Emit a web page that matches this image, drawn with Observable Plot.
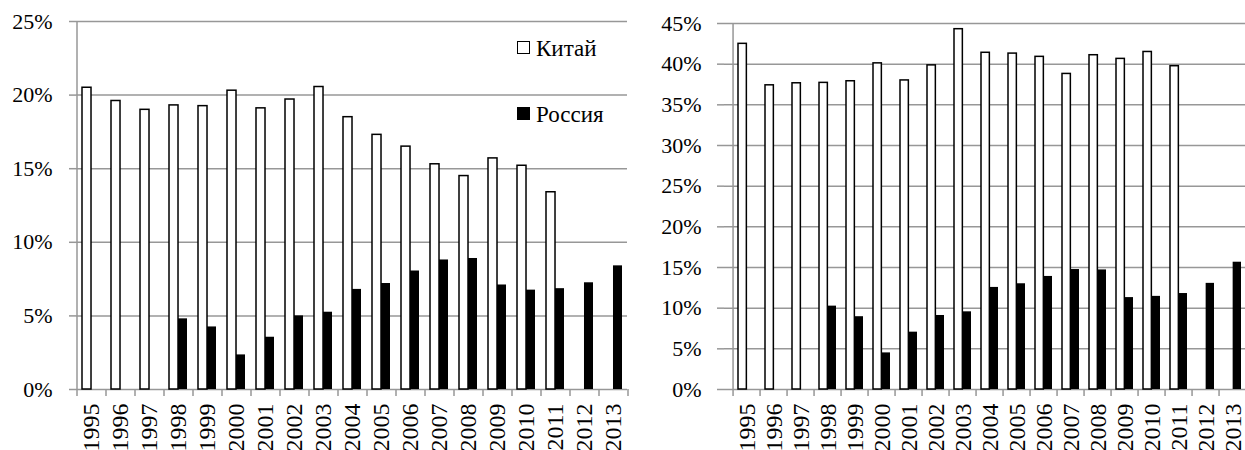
<!DOCTYPE html>
<html><head><meta charset="utf-8">
<script src="https://cdn.jsdelivr.net/npm/d3@7"></script>
<script src="https://cdn.jsdelivr.net/npm/@observablehq/plot@0.6"></script>
<style>
html,body{margin:0;padding:0;background:#fff;overflow:hidden;}
#wrap{position:relative;width:1245px;height:450px;overflow:hidden;background:#fff;}
#left{position:absolute;left:0;top:0;width:630px;}
#right{position:absolute;left:630px;top:0;width:627px;}
.sw{position:absolute;box-sizing:border-box;width:13px;height:13px;}
.leg{position:absolute;font-size:23px;line-height:24px;white-space:nowrap;color:#000;}
</style></head>
<body>
<div id="wrap">
  <div id="left"></div>
  <div id="right"></div>
  <div class="sw" style="left:517px;top:41px;border:1.5px solid #000;background:#fff;"></div>
  <div class="leg" style="left:536px;top:37px;">Китай</div>
  <div class="sw" style="left:517px;top:107px;background:#000;"></div>
  <div class="leg" style="left:536px;top:103px;">Россия</div>
</div>
<script>
const years = ["1995","1996","1997","1998","1999","2000","2001","2002","2003","2004","2005","2006","2007","2008","2009","2010","2011","2012","2013"];
const seriesNames = ["Китай", "Россия"];

// Left panel
const chinaLeft  = [20.5, 19.6, 19.0, 19.3, 19.25, 20.3, 19.1, 19.7, 20.55, 18.5, 17.3, 16.5, 15.3, 14.5, 15.7, 15.2, 13.4, null, null];
const russiaLeft = [null, null, null, 4.8, 4.25, 2.35, 3.55, 5.0, 5.25, 6.8, 7.2, 8.05, 8.8, 8.9, 7.1, 6.75, 6.85, 7.25, 8.4];
const yTicksLeft = [0, 5, 10, 15, 20, 25];

// Right panel
const chinaRight  = [42.5, 37.4, 37.65, 37.7, 37.9, 40.1, 38.0, 39.85, 44.3, 41.4, 41.3, 40.9, 38.8, 41.1, 40.65, 41.5, 39.75, null, null];
const russiaRight = [null, null, null, 10.25, 8.95, 4.5, 7.05, 9.1, 9.55, 12.55, 13.0, 13.9, 14.75, 14.7, 11.3, 11.45, 11.8, 13.05, 15.65];
const yTicksRight = [0, 5, 10, 15, 20, 25, 30, 35, 40, 45];

const GRID = "#979797";

function forceSerif(el) {
  el.style.setProperty("font-family", "'Liberation Serif', serif", "important");
}

function makeChart(o) {
  const height = 450, n = years.length;
  const step = (o.width - o.ml - o.mr) / n;
  const pad = 0.38;
  const bw = step * (1 - pad);
  const rows = years.map((y, i) => ({year: y, china: o.china[i], russia: o.russia[i]}));
  const svg = Plot.plot({
    width: o.width, height,
    marginLeft: o.ml, marginRight: o.mr, marginTop: o.mt, marginBottom: o.mb,
    style: {background: "white", overflow: "visible", maxWidth: "none", color: "black"},
    x: {type: "band", domain: years, paddingInner: pad, paddingOuter: pad / 2, align: 0.5, label: null},
    y: {domain: [0, o.yMax], label: null},
    marks: [
      Plot.ruleY(o.yTicks, {stroke: GRID, strokeWidth: 1.5}),
      Plot.axisY({ticks: o.yTicks, tickSize: 7, tickPadding: o.tickPad, tickFormat: d => d + "%",
                  stroke: GRID, strokeWidth: 1.5, fill: "black", fontSize: 22, label: null}),
      Plot.ruleX([years[0]], {dx: -step / 2, stroke: GRID, strokeWidth: 1.5}),
      Plot.axisX({tickSize: 7, dx: -step / 2, fill: "none", stroke: GRID, strokeWidth: 1.5, label: null}),
      Plot.axisX({ticks: [years[n - 1]], tickSize: 7, dx: step / 2, fill: "none", stroke: GRID, strokeWidth: 1.5, label: null}),
      Plot.axisX({tickSize: 0, tickPadding: 14, tickRotate: -90, fontSize: 24, fill: "black", label: null}),
      Plot.barY(rows, {x: "year", y: "china", fill: "white", stroke: "black", strokeWidth: 1.5, insetRight: bw / 2, title: d => seriesNames[0]}),
      Plot.barY(rows, {x: "year", y: "russia", fill: "black", insetLeft: bw / 2, title: d => seriesNames[1]})
    ]
  });
  forceSerif(svg);
  svg.querySelectorAll("g, text").forEach(forceSerif);
  return svg;
}

document.getElementById("left").appendChild(makeChart({
  width: 630, ml: 76, mr: 3, mt: 21, mb: 61, china: chinaLeft, russia: russiaLeft,
  yMax: 25, yTicks: yTicksLeft, tickPad: 17
}));
document.getElementById("right").appendChild(makeChart({
  width: 627, ml: 94, mr: 3, mt: 23, mb: 61, china: chinaRight, russia: russiaRight,
  yMax: 45, yTicks: yTicksRight, tickPad: 16
}));
document.querySelectorAll(".leg").forEach(forceSerif);
</script>
</body></html>
